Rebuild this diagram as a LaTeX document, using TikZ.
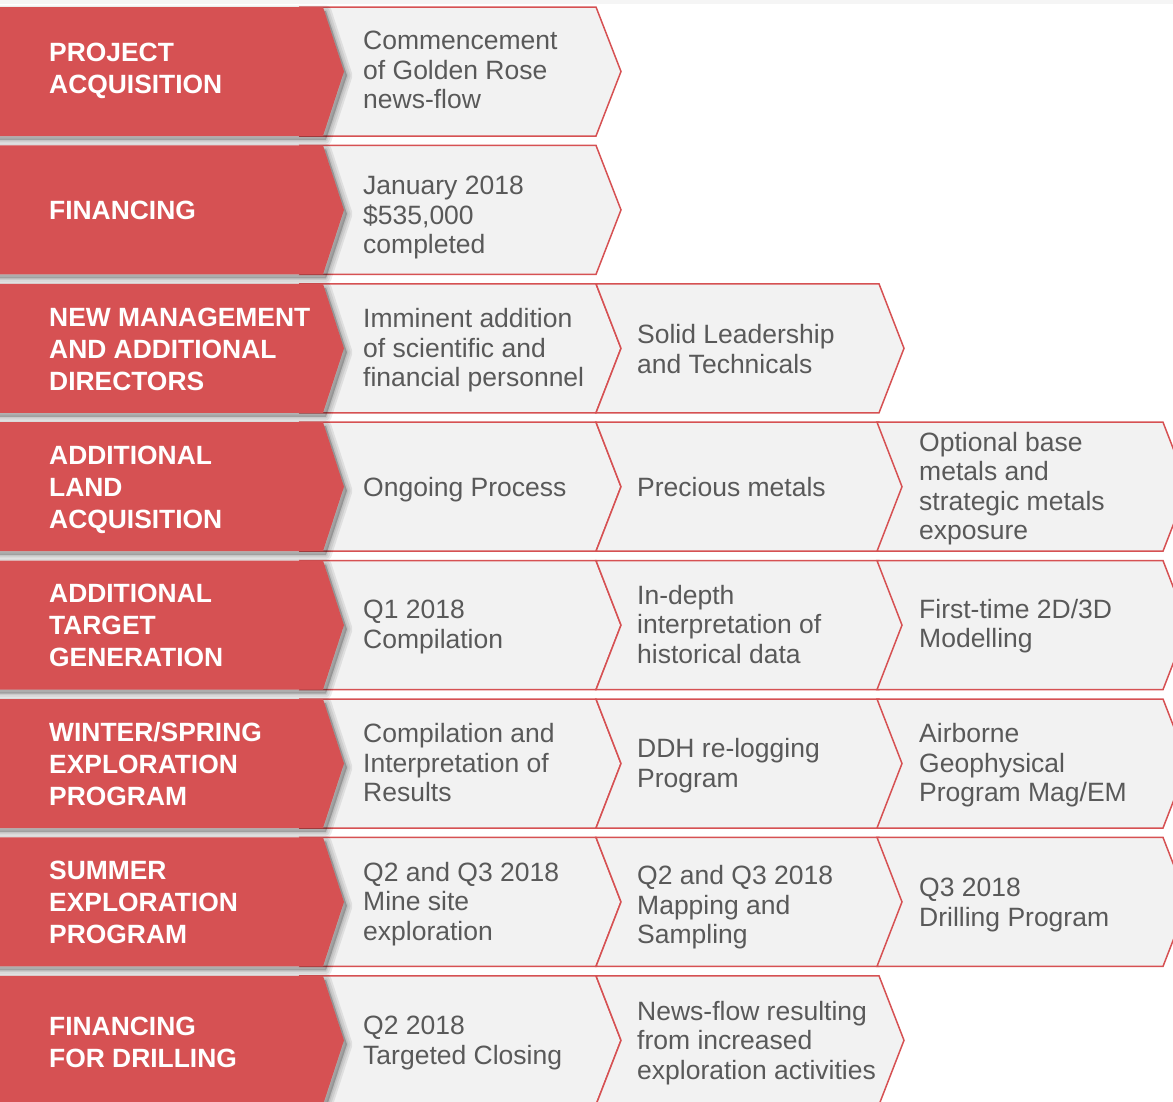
\documentclass[tikz,border=0pt]{standalone}
\usepackage{fontspec}
\setmainfont{Liberation Sans}
\usepackage{tikz}
\definecolor{brick}{HTML}{D65153}
\definecolor{panel}{HTML}{F2F2F2}
\definecolor{ink}{HTML}{595959}
\newcommand{\headfont}{\fontsize{26.4}{32}\selectfont\bfseries}
\newcommand{\cellfont}{\fontsize{26.5}{29.5}\selectfont}
\tikzset{
  % gray step: left x, right x, top y (rows are 129 high, tips 24 deep)
  stepchev/.style n args={3}{insert path={(#1,#3) -- (#2,#3) -- ++(25,64.5)
    -- ++(-25,64.5) -- (#1,{#3+129}) -- ++(25,-64.5) -- cycle}},
  % red heading arrow, flat on the left
  headchev/.style={insert path={(-20,#1) -- (323,#1) -- ++(21,64.5)
    -- ++(-21,64.5) -- (-20,{#1+129}) -- cycle}},
  panelbox/.style={fill=panel,draw=brick,line width=1.5pt,line join=miter},
  haze/.style={fill=black,draw=black,opacity=0.075,line join=round,shift={(3,4)}},
  head/.style={anchor=west,align=left,inner sep=0pt,text=white,font=\headfont},
  cell/.style={anchor=west,align=left,inner sep=0pt,text=ink,font=\cellfont},
}
\begin{document}
\begin{tikzpicture}[x=1pt,y=-1pt]
  \useasboundingbox (0,0) rectangle (1173,1101);
  \clip (0,0) rectangle (1173,1101);
  \fill[black!4] (0,0) rectangle (1173,4);
  % rows: index / number of gray steps
  \foreach \i/\n in {0/1,1/1,2/2,3/3,4/3,5/3,6/3,7/2}{
    \pgfmathsetmacro\t{7+138.4*\i}
    \foreach \xa/\xb [count=\c] in {300/596,596/879,877/1163}{
      \ifnum\c>\n\relax\else
        \path[panelbox,stepchev={\xa}{\xb}{\t}];
      \fi
    }
    \foreach \w in {11,7,3}
      \path[haze,line width=\w pt,headchev=\t];
    \fill[brick,headchev=\t];
  }
  % headings
  \node[head] (h1) at (49,  71.0){PROJECT\\ACQUISITION};
  \node[head] (h2) at (49, 210.9){FINANCING};
  \node[head] (h3) at (49, 349.3){NEW MANAGEMENT\\AND ADDITIONAL\\DIRECTORS};
  \node[head] (h4) at (49, 489.7){ADDITIONAL\\LAND\\ACQUISITION};
  \node[head] (h5) at (49, 625.1){ADDITIONAL\\TARGET\\GENERATION};
  \node[head] (h6) at (49, 764.5){WINTER/SPRING\\EXPLORATION\\PROGRAM};
  \node[head] (h7) at (49, 901.9){SUMMER\\EXPLORATION\\PROGRAM};
  \node[head] (h8) at (49,1042.3){FINANCING\\FOR DRILLING};
  % first step
  \node[cell] (a1) at (363,  70.0){Commencement\\of Golden Rose\\news-flow};
  \node[cell] (a2) at (363, 217.5){January 2018\\\$535,000\\completed};
  \node[cell] (a3) at (363, 350.3){Imminent addition\\of scientific and\\financial personnel};
  \node[cell] (a4) at (363, 489.7){Ongoing Process};
  \node[cell] (a5) at (363, 627.1){Q1 2018\\Compilation};
  \node[cell] (a6) at (363, 763.0){Compilation and\\Interpretation of\\Results};
  \node[cell] (a7) at (363, 904.0){Q2 and Q3 2018\\Mine site\\exploration};
  \node[cell] (a8) at (363,1042.8){Q2 2018\\Targeted Closing};
  % second step
  \node[cell] (b3) at (637, 348.8){Solid Leadership\\and Technicals};
  \node[cell] (b4) at (637, 486.7){Precious metals};
  \node[cell] (b5) at (637, 624.1){In-depth\\interpretation of\\historical data};
  \node[cell] (b6) at (637, 765.5){DDH re-logging\\Program};
  \node[cell] (b7) at (637, 907.5){Q2 and Q3 2018\\Mapping and\\Sampling};
  \node[cell] (b8) at (637,1043.0){News-flow resulting\\from increased\\exploration activities};
  % third step
  \node[cell] (c4) at (919, 488.7){Optional base\\metals and\\strategic metals\\exposure};
  \node[cell] (c5) at (919, 626.1){First-time 2D/3D\\Modelling};
  \node[cell] (c6) at (919, 765.5){Airborne\\Geophysical\\Program Mag/EM};
  \node[cell] (c7) at (919, 904.9){Q3 2018\\Drilling Program};
\end{tikzpicture}
\end{document}
